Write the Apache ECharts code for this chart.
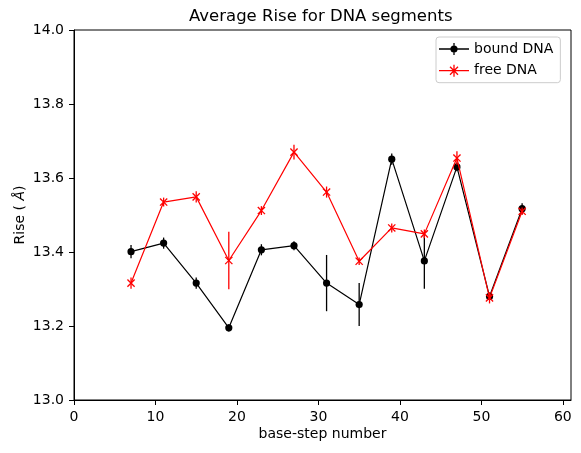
<!DOCTYPE html>
<html>
<head>
<meta charset="utf-8">
<script src="https://cdn.jsdelivr.net/npm/echarts@6/dist/echarts.min.js"></script>
<style>
html,body{margin:0;padding:0;background:#fff;}
#chart{width:581px;height:453px;}
</style>
</head>
<body>
<div id="chart"></div>
<script>
// ---- data ----
const baseSteps = [7, 11, 15, 19, 23, 27, 31, 35, 39, 43, 47, 51, 55];
const boundRise = [13.401, 13.424, 13.316, 13.195, 13.406, 13.417, 13.316, 13.258, 13.651, 13.376, 13.630, 13.280, 13.517];
const boundErr  = [0.018, 0.015, 0.015, 0.010, 0.015, 0.012, 0.076, 0.058, 0.015, 0.075, 0.012, 0.010, 0.015];
const freeRise  = [13.316, 13.535, 13.549, 13.377, 13.512, 13.670, 13.562, 13.375, 13.465, 13.449, 13.654, 13.276, 13.510];
const freeErr   = [0.015, 0.012, 0.015, 0.078, 0.012, 0.020, 0.015, 0.010, 0.012, 0.012, 0.018, 0.015, 0.010];
const xTicks = [0, 10, 20, 30, 40, 50, 60];
const yTicks = [13.0, 13.2, 13.4, 13.6, 13.8, 14.0];

const FONT = 'DejaVu Sans';
const pairs = (xs, ys) => xs.map((x, i) => [x, ys[i]]);
const triples = (xs, ys, es) => xs.map((x, i) => [x, ys[i], es[i]]);

function errRender(kind, color) {
  return function (params, api) {
    const x = api.value(0), y = api.value(1), e = api.value(2);
    const t = api.coord([x, y + e]);
    const b = api.coord([x, y - e]);
    const c = api.coord([x, y]);
    const children = [{
      type: 'line',
      shape: { x1: t[0], y1: t[1], x2: b[0], y2: b[1] },
      style: { stroke: color, lineWidth: 1.3 }
    }];
    if (kind === 'circle') {
      children.push({ type: 'circle', shape: { cx: c[0], cy: c[1], r: 3.6 }, style: { fill: color } });
    } else {
      const r = 3.6;
      children.push({ type: 'line', shape: { x1: c[0] - r, y1: c[1] - r, x2: c[0] + r, y2: c[1] + r }, style: { stroke: color, lineWidth: 1.3 } });
      children.push({ type: 'line', shape: { x1: c[0] - r, y1: c[1] + r, x2: c[0] + r, y2: c[1] - r }, style: { stroke: color, lineWidth: 1.3 } });
    }
    return { type: 'group', children: children };
  };
}

const boundIcon = 'path://M0,5.35h30v1.3h-30z M14.35,0h1.3v12h-1.3z M18.6,6A3.6,3.6 0 1 1 11.4,6A3.6,3.6 0 1 1 18.6,6z';
const freeIcon = 'path://M0,5.35h30v1.3h-30z M14.35,0h1.3v12h-1.3z ' +
  'M11.46,1.54L19.46,9.54L18.54,10.46L10.54,2.46z ' +
  'M19.46,2.46L11.46,10.46L10.54,9.54L18.54,1.54z';

const chart = echarts.init(document.getElementById('chart'), null, { renderer: 'canvas' });
chart.setOption({
  backgroundColor: '#fff',
  animation: false,
  textStyle: { fontFamily: FONT },
  title: {
    text: 'Average Rise for DNA segments',
    left: 189, top: 8, padding: 0,
    textStyle: { fontFamily: FONT, fontSize: 16.5, fontWeight: 'normal', color: '#000' }
  },
  legend: {
    orient: 'vertical',
    left: 436, top: 37,
    padding: [4, 7, 4, 3],
    itemWidth: 30, itemHeight: 12, itemGap: 5.7, itemTextGap: 10,
    backgroundColor: 'rgba(255,255,255,0.8)',
    borderColor: '#cccccc', borderWidth: 1, borderRadius: 3,
    textStyle: { fontFamily: FONT, fontSize: 14, color: '#000', lineHeight: 16 },
    data: [
      { name: 'bound DNA', icon: boundIcon, itemStyle: { color: '#000000', borderWidth: 0 } },
      { name: 'free DNA', icon: freeIcon, itemStyle: { color: '#ff0000', borderWidth: 0 } }
    ]
  },
  grid: {
    left: 74, right: 10, top: 30, bottom: 53,
    show: true, borderColor: '#000', borderWidth: 1, backgroundColor: 'transparent'
  },
  xAxis: {
    type: 'value', min: 0, max: 61, interval: 10,
    name: 'base-step number', nameLocation: 'middle', nameGap: 27, nameMoveOverlap: false,
    nameTextStyle: { fontFamily: FONT, fontSize: 14, color: '#000' },
    axisLine: { show: true, lineStyle: { color: '#000', width: 1 } },
    axisTick: { show: true, length: 5, lineStyle: { color: '#000', width: 1 }, customValues: xTicks },
    axisLabel: { fontFamily: FONT, fontSize: 14, color: '#000', margin: 10, customValues: xTicks },
    splitLine: { show: false }
  },
  yAxis: {
    type: 'value', min: 13.0, max: 14.0, interval: 0.2,
    name: '{n|Rise ( }{i|Å}{n|)}', nameLocation: 'middle', nameGap: 47, nameRotate: 90,
    nameMoveOverlap: false,
    nameTextStyle: {
      fontFamily: FONT, fontSize: 14, color: '#000',
      rich: {
        n: { fontFamily: FONT, fontSize: 14, color: '#000' },
        i: { fontFamily: FONT, fontSize: 14, color: '#000', fontStyle: 'italic' }
      }
    },
    axisLine: { show: true, lineStyle: { color: '#000', width: 1 } },
    axisTick: { show: true, length: 5, lineStyle: { color: '#000', width: 1 }, customValues: yTicks },
    axisLabel: { fontFamily: FONT, fontSize: 14, color: '#000', margin: 10, customValues: yTicks,
      formatter: v => v.toFixed(1) },
    splitLine: { show: false }
  },
  series: [
    {
      name: 'bound DNA', type: 'line', data: pairs(baseSteps, boundRise),
      symbol: 'none', color: '#000000',
      lineStyle: { color: '#000000', width: 1.2 }, z: 2
    },
    {
      name: 'bound err', type: 'custom', data: triples(baseSteps, boundRise, boundErr),
      renderItem: errRender('circle', '#000000'), z: 2
    },
    {
      name: 'free DNA', type: 'line', data: pairs(baseSteps, freeRise),
      symbol: 'none', color: '#ff0000',
      lineStyle: { color: '#ff0000', width: 1.2 }, z: 3
    },
    {
      name: 'free err', type: 'custom', data: triples(baseSteps, freeRise, freeErr),
      renderItem: errRender('x', '#ff0000'), z: 3
    }
  ]
});
</script>
</body>
</html>
